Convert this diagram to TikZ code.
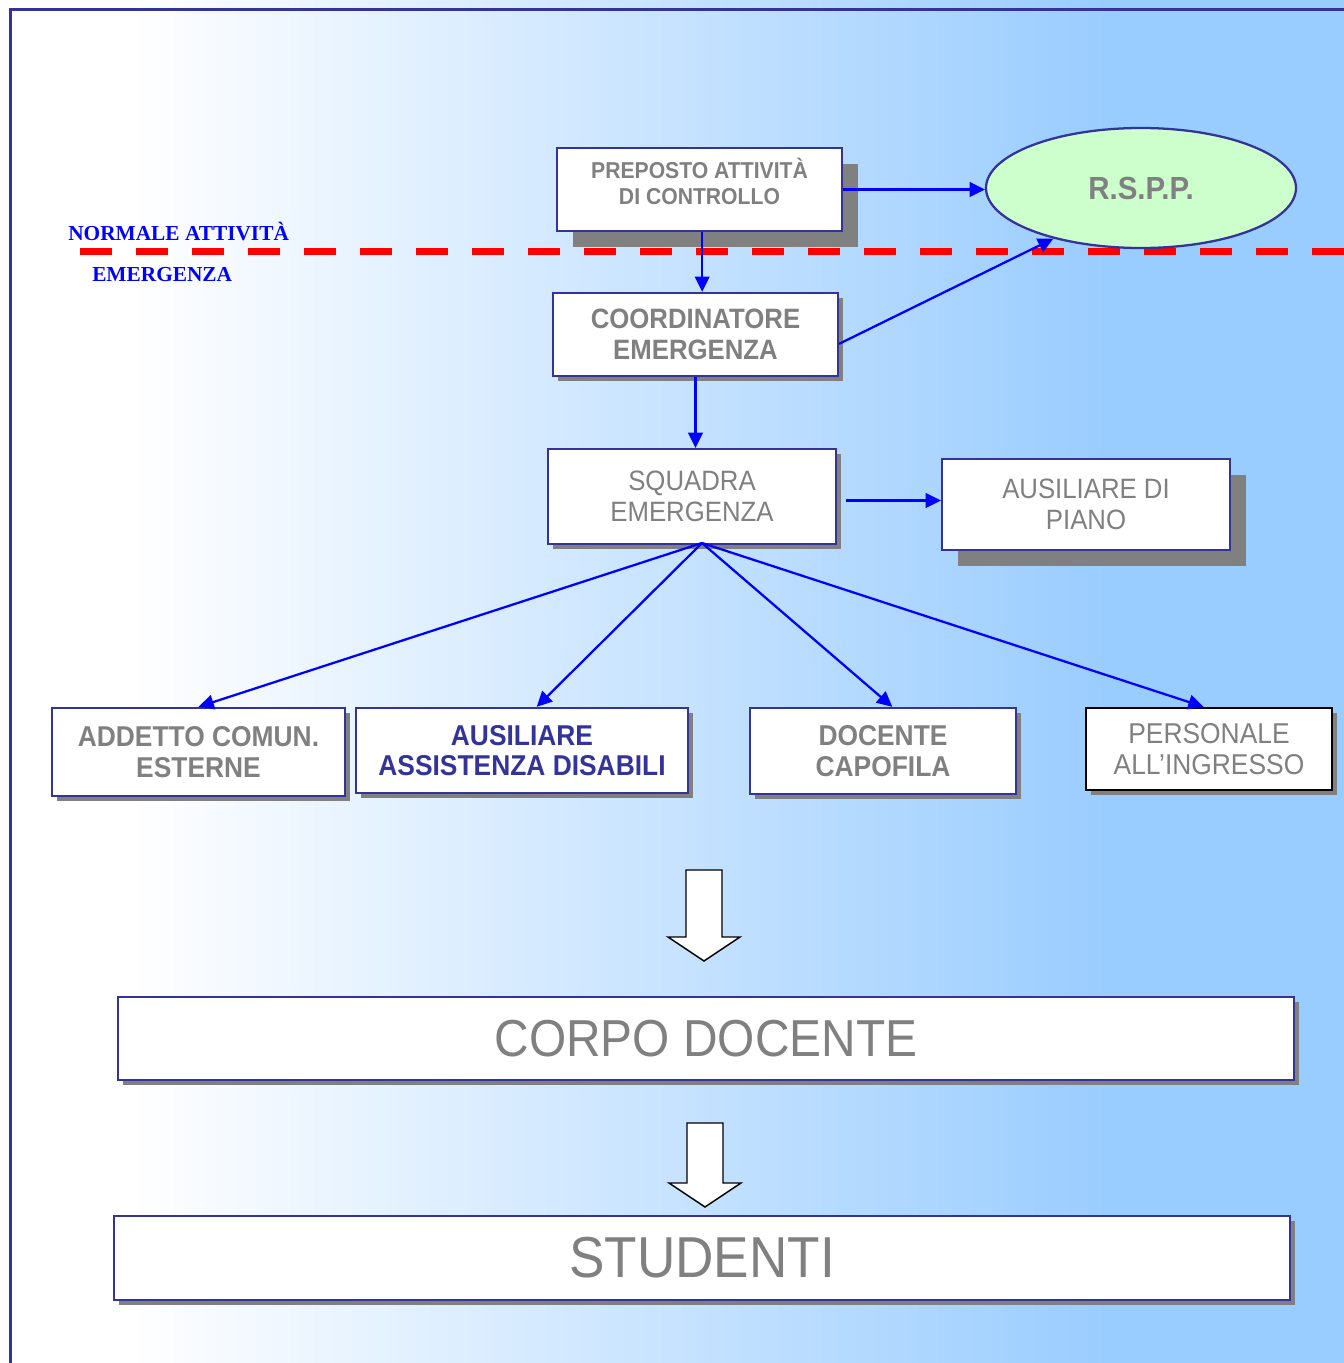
\documentclass[tikz,border=0pt]{standalone}
\usepackage{fontspec}
\usetikzlibrary{shapes.geometric,shadows,arrows.meta}
\newfontfamily\boxfont[FakeStretch=0.92]{Liberation Sans}
\newfontfamily\linefont{Liberation Serif}
\definecolor{frameblue}{RGB}{51,51,153}
\definecolor{textgray}{RGB}{128,128,128}
\definecolor{skyblue}{RGB}{153,204,255}
\definecolor{rsppgreen}{RGB}{204,255,204}

\begin{document}
\begin{tikzpicture}[x=0.75pt, y=-0.75pt,
  box/.style={draw=frameblue, line width=1.7pt, fill=white, inner sep=0pt, align=center, text=textgray},
  bigshadow/.style={drop shadow={shadow xshift=12pt, shadow yshift=-12pt, fill=textgray, opacity=1}},
  smallshadow/.style={drop shadow={shadow xshift=4pt, shadow yshift=-4pt, fill=textgray, opacity=1}},
  conn/.style={blue, line width=1.7pt, -{Triangle[length=11.5pt, width=11pt]}},
  blockarrow/.style={draw=black, line width=1.1pt, fill=white},
  zone/.style={anchor=base west, inner sep=0pt, text=blue, font=\linefont\bfseries\fontsize{16}{18}\selectfont}]
% background
\fill[white] (0,0) rectangle (131,1363);
\fill[left color=white, right color=skyblue] (130,0) rectangle (1116,1363);
\fill[skyblue] (1115,0) rectangle (1344,1363);
\useasboundingbox (0,0) rectangle (1344,1363);
\draw[frameblue, line width=2.25pt] (10,1363) -- (10,10) -- (1344,10); % frame
\draw[red, line width=5.25pt, dash pattern=on 24pt off 18pt] (80,251) -- (1344,251); % dividing line
\node[zone] (normale) at (68,240) {NORMALE ATTIVITÀ};
\node[zone] (emergenza) at (92,281) {EMERGENZA};

\node[box, bigshadow, minimum width=213.75pt, minimum height=62.25pt, text depth=13pt, font=\boxfont\bfseries\fontsize{17.25}{19.5}\selectfont] (prep) at (699.5,189.5) {PREPOSTO ATTIVITÀ\\DI CONTROLLO};
\node[ellipse, draw=frameblue, line width=1.7pt, fill=rsppgreen, inner sep=0pt, minimum width=232.5pt, minimum height=90pt, text=textgray, font=\boxfont\bfseries\fontsize{24}{26}\selectfont] (rspp) at (1141,188) {R.S.P.P.};
\node[box, smallshadow, minimum width=213.75pt, minimum height=62.25pt, font=\boxfont\bfseries\fontsize{21}{23}\selectfont] (coord) at (695.5,334.5) {COORDINATORE\\EMERGENZA};
\node[box, smallshadow, minimum width=216pt, minimum height=71.25pt, font=\boxfont\fontsize{21}{23}\selectfont] (squadra) at (692,496.5) {SQUADRA\\EMERGENZA};
\node[box, bigshadow, minimum width=216pt, minimum height=68.25pt, font=\boxfont\fontsize{21}{23}\selectfont] (piano) at (1086,504.5) {AUSILIARE DI\\PIANO};

% bottom row
\node[box, smallshadow, minimum width=219.75pt, minimum height=66pt, font=\boxfont\bfseries\fontsize{21.5}{23}\selectfont] (addetto) at (198.5,752) {ADDETTO COMUN.\\ESTERNE};
\node[box, smallshadow, minimum width=249pt, minimum height=63.75pt, text=frameblue, font=\boxfont\bfseries\fontsize{21.5}{23}\selectfont] (assist) at (522,750.5) {AUSILIARE\\ASSISTENZA DISABILI};
\node[box, smallshadow, minimum width=199.5pt, minimum height=64.5pt, font=\boxfont\bfseries\fontsize{21.5}{23}\selectfont] (docente) at (883,751) {DOCENTE\\CAPOFILA};
\node[box, smallshadow, draw=black, minimum width=184.5pt, minimum height=61.5pt, font=\boxfont\fontsize{21.5}{23}\selectfont] (personale) at (1209,749) {PERSONALE\\ALL’INGRESSO};

\node[box, smallshadow, minimum width=882pt, minimum height=62.25pt, font=\boxfont\fontsize{39}{44}\selectfont] (corpo) at (706,1038.5) {CORPO DOCENTE};
\node[box, smallshadow, minimum width=882pt, minimum height=63pt, font=\boxfont\fontsize{43.3}{46}\selectfont] (studenti) at (702,1258) {STUDENTI};

% connectors
\draw[conn] (prep.east) -- (prep.east -| rspp.west);
\draw[conn] ([xshift=2pt]prep.south) -- ([xshift=2pt]prep.south |- coord.north);
\draw[conn] ([yshift=-7pt]coord.east) -- (rspp.210);
\draw[conn] (coord.south) -- (coord.south |- squadra.north);
\draw[conn] ([xshift=7pt,yshift=-3pt]squadra.east) -- ([yshift=-3pt]squadra.east -| piano.west);
\coordinate (fan) at (702,543);
\draw[conn] (fan) -- (addetto.north);
\draw[conn] (fan) -- ([xshift=11pt]assist.north);
\draw[conn] (fan) -- ([xshift=7pt]docente.north);
\draw[conn] (fan) -- ([xshift=-4pt]personale.north);

% block arrows
\foreach \tx/\ty/\ln in {704/870/91, 705/1123/84}
  \draw[blockarrow] (\tx-18,\ty) -- (\tx+18,\ty) -- (\tx+18,\ty+\ln-24) -- (\tx+36,\ty+\ln-24) -- (\tx,\ty+\ln) -- (\tx-36,\ty+\ln-24) -- (\tx-18,\ty+\ln-24) -- cycle;
\end{tikzpicture}
\end{document}
